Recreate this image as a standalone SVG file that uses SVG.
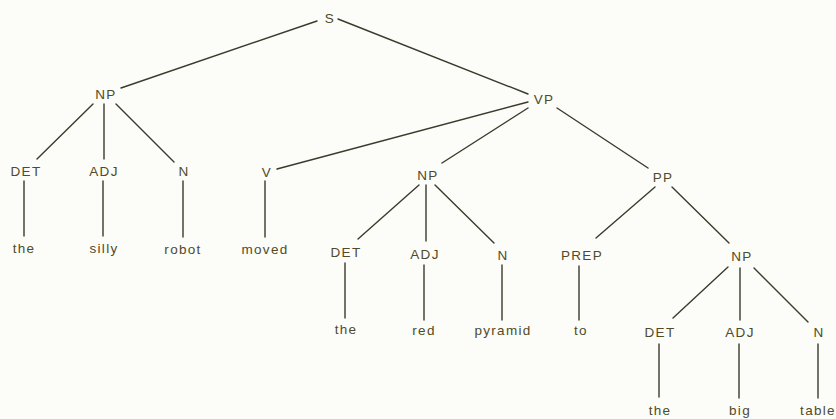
<svg xmlns="http://www.w3.org/2000/svg" width="836" height="419" viewBox="0 0 836 419">
  <style>
    .lbl { font-family: "Liberation Sans", Arial, sans-serif; font-size: 13.5px; letter-spacing: 1.3px; fill: #4f4b2a; text-anchor: middle; }
    .edge { stroke: #3c3a2a; stroke-width: 1.4; fill: none; stroke-linecap: round; }
  </style>
  <rect width="836" height="419" fill="#fcfcf8"/>

  <!-- tree branches -->
  <g id="connectors" class="edge">
    <line x1="317" y1="21" x2="121" y2="88"/>
    <line x1="338" y1="19" x2="528" y2="94"/>
    <line x1="93" y1="104" x2="37" y2="159"/>
    <line x1="104" y1="104" x2="104" y2="159"/>
    <line x1="116" y1="104" x2="174" y2="162"/>
    <line x1="528" y1="102" x2="277" y2="169"/>
    <line x1="528" y1="108" x2="442" y2="163"/>
    <line x1="557" y1="108" x2="648" y2="168"/>
    <line x1="24" y1="181" x2="24" y2="236"/>
    <line x1="103" y1="181" x2="103" y2="236"/>
    <line x1="183" y1="181" x2="183" y2="237"/>
    <line x1="265" y1="181" x2="265" y2="237"/>
    <line x1="419" y1="185" x2="358" y2="239"/>
    <line x1="426" y1="185" x2="426" y2="241"/>
    <line x1="435" y1="185" x2="494" y2="243"/>
    <line x1="655" y1="187" x2="596" y2="238"/>
    <line x1="672" y1="187" x2="729" y2="243"/>
    <line x1="345" y1="263" x2="345" y2="318"/>
    <line x1="424" y1="265" x2="424" y2="320"/>
    <line x1="502" y1="265" x2="502" y2="320"/>
    <line x1="579" y1="266" x2="579" y2="320"/>
    <line x1="728" y1="267" x2="673" y2="318"/>
    <line x1="740" y1="268" x2="740" y2="320"/>
    <line x1="754" y1="268" x2="808" y2="322"/>
    <line x1="659" y1="344" x2="659" y2="397"/>
    <line x1="739" y1="344" x2="739" y2="398"/>
    <line x1="818" y1="344" x2="818" y2="398"/>
  </g>

  <g id="s"><text class="lbl" x="330" y="23">S</text></g>
  <g id="np1"><text class="lbl" x="106" y="99">NP</text></g>
  <g id="vp"><text class="lbl" x="544" y="104">VP</text></g>

  <g id="det1"><text class="lbl" x="26" y="176">DET</text></g>
  <g id="adj1"><text class="lbl" x="104" y="176">ADJ</text></g>
  <g id="n1"><text class="lbl" x="184" y="176">N</text></g>
  <g id="v"><text class="lbl" x="267" y="177">V</text></g>
  <g id="np2"><text class="lbl" x="428" y="180">NP</text></g>
  <g id="pp"><text class="lbl" x="663" y="182">PP</text></g>

  <g id="w-the1"><text class="lbl" x="24" y="253">the</text></g>
  <g id="w-silly"><text class="lbl" x="104" y="253">silly</text></g>
  <g id="w-robot"><text class="lbl" x="183" y="254">robot</text></g>
  <g id="w-moved"><text class="lbl" x="265" y="254">moved</text></g>

  <g id="det2"><text class="lbl" x="346" y="257">DET</text></g>
  <g id="adj2"><text class="lbl" x="425" y="259">ADJ</text></g>
  <g id="n2"><text class="lbl" x="503" y="260">N</text></g>
  <g id="prep"><text class="lbl" x="582" y="260">PREP</text></g>
  <g id="np3"><text class="lbl" x="742" y="261">NP</text></g>

  <g id="w-the2"><text class="lbl" x="346" y="334">the</text></g>
  <g id="w-red"><text class="lbl" x="424" y="335">red</text></g>
  <g id="w-pyramid"><text class="lbl" x="503" y="335">pyramid</text></g>
  <g id="w-to"><text class="lbl" x="581" y="335">to</text></g>

  <g id="det3"><text class="lbl" x="660" y="337">DET</text></g>
  <g id="adj3"><text class="lbl" x="740" y="337">ADJ</text></g>
  <g id="n3"><text class="lbl" x="819" y="337">N</text></g>

  <g id="w-the3"><text class="lbl" x="660" y="415">the</text></g>
  <g id="w-big"><text class="lbl" x="740" y="415">big</text></g>
  <g id="w-table"><text class="lbl" x="818" y="415">table</text></g>
</svg>
